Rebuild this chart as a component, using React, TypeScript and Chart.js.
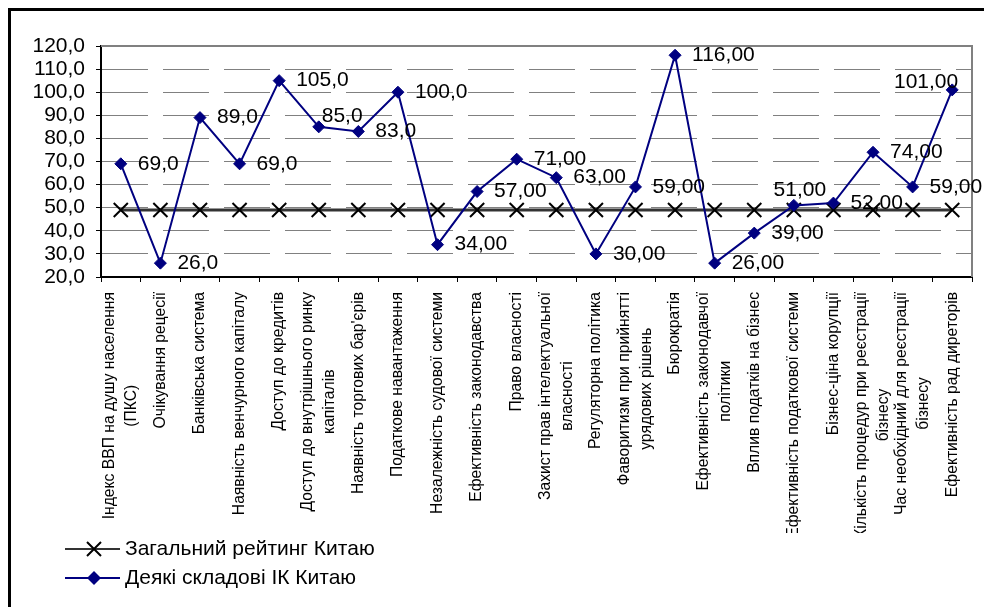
import React, { useEffect, useRef } from 'react';
import { Chart, registerables } from 'chart.js';

Chart.register(...registerables);

const categories: (string | string[])[] = [
  ['Індекс ВВП на душу населення', '(ПКС)'],
  'Очікування рецесії',
  'Банківська система',
  'Наявність венчурного капіталу',
  'Доступ до кредитів',
  ['Доступ до внутрішнього ринку', 'капіталів'],
  "Наявність торгових бар'єрів",
  'Податкове навантаження',
  'Незалежність судової системи',
  'Ефективність законодавства',
  'Право власності',
  ['Захист прав інтелектуальної', 'власності'],
  'Регуляторна політика',
  ['Фаворитизм при прийнятті', 'урядових рішень'],
  'Бюрократія',
  ['Ефективність законодавчої', 'політики'],
  'Вплив податків на бізнес',
  'Ефективність податкової системи',
  'Бізнес-ціна корупції',
  ['Кількість процедур при реєстрації', 'бізнесу'],
  ['Час необхідний для реєстрації', 'бізнесу'],
  'Ефективність рад диреторів',
];

const overallRating = [49, 49, 49, 49, 49, 49, 49, 49, 49, 49, 49, 49, 49, 49, 49, 49, 49, 49, 49, 49, 49, 49];
const componentValues = [69, 26, 89, 69, 105, 85, 83, 100, 34, 57, 71, 63, 30, 59, 116, 26, 39, 51, 52, 74, 59, 101];
const labelDecimals = [1, 1, 1, 1, 1, 1, 1, 1, 2, 2, 2, 2, 2, 2, 2, 2, 2, 2, 2, 2, 2, 2];
const yTickValues = [20, 30, 40, 50, 60, 70, 80, 90, 100, 110, 120];
const seriesNames = ['Загальний рейтинг Китаю', 'Деякі складові ІК Китаю'];

const FONT = '"Liberation Sans", Arial, sans-serif';
const NAVY = '#000080';
const DARK = '#333333';

const fmt = (v: number, d: number) => v.toFixed(d).replace('.', ',');

const plotBorderPlugin = {
  id: 'plotBorder',
  beforeDatasetsDraw(chart: any) {
    const { ctx, chartArea: a } = chart;
    ctx.save();
    ctx.strokeStyle = '#808080';
    ctx.lineWidth = 2;
    ctx.beginPath();
    ctx.moveTo(a.left, a.top);
    ctx.lineTo(a.right, a.top);
    ctx.lineTo(a.right, a.bottom);
    ctx.stroke();
    ctx.restore();
  },
};

const labelPlacement: Record<number, string> = { 5: 'aboveRight', 17: 'above', 21: 'leftAbove' };

const dataLabelPlugin = {
  id: 'dataLabels',
  afterDatasetsDraw(chart: any) {
    const { ctx } = chart;
    const meta = chart.getDatasetMeta(1);
    ctx.save();
    ctx.font = `21px ${FONT}`;
    ctx.fillStyle = '#000';
    ctx.textBaseline = 'middle';
    meta.data.forEach((pt: any, i: number) => {
      const text = fmt(componentValues[i], labelDecimals[i]);
      const p = labelPlacement[i] || 'right';
      if (p === 'right') {
        ctx.textAlign = 'left';
        ctx.fillText(text, pt.x + 17, pt.y);
      } else if (p === 'aboveRight') {
        ctx.textAlign = 'left';
        ctx.fillText(text, pt.x + 3, pt.y - 11);
      } else if (p === 'above') {
        ctx.textAlign = 'center';
        ctx.fillText(text, pt.x + 6, pt.y - 15);
      } else {
        ctx.textAlign = 'right';
        ctx.fillText(text, pt.x + 6, pt.y - 8);
      }
    });
    ctx.restore();
  },
};

const xLabelPlugin = {
  id: 'xLabels',
  afterDraw(chart: any) {
    const { ctx, chartArea: a } = chart;
    const xs = chart.scales.x;
    ctx.save();
    ctx.beginPath();
    ctx.rect(0, a.bottom, chart.width, 522 - a.bottom);
    ctx.clip();
    ctx.font = `15.7px ${FONT}`;
    ctx.fillStyle = '#000';
    ctx.textBaseline = 'middle';
    const top = a.bottom + 15;
    const lh = 22;
    categories.forEach((cat, i) => {
      const lines = Array.isArray(cat) ? cat : [cat];
      const x = xs.getPixelForValue(i);
      const blockW = Math.max(...lines.map((l) => ctx.measureText(l).width));
      ctx.save();
      ctx.translate(x, top);
      ctx.rotate(-Math.PI / 2);
      ctx.textAlign = 'center';
      lines.forEach((l, k) => {
        ctx.fillText(l, -blockW / 2, (k - (lines.length - 1) / 2) * lh);
      });
      ctx.restore();
    });
    ctx.restore();
  },
};

const legendPlugin = {
  id: 'customLegend',
  afterDraw(chart: any) {
    const { ctx } = chart;
    const rows = [538, 567];
    const x0 = 54;
    const x1 = 109;
    const mx = 83;
    ctx.save();
    chart.data.datasets.forEach((ds: any, i: number) => {
      const y = rows[i];
      ctx.strokeStyle = ds.borderColor;
      ctx.lineWidth = 2;
      ctx.beginPath();
      ctx.moveTo(x0, y);
      ctx.lineTo(x1, y);
      ctx.stroke();
      if (i === 0) {
        const o = 7;
        ctx.strokeStyle = '#000';
        ctx.lineWidth = 2;
        ctx.beginPath();
        ctx.moveTo(mx - o, y - o);
        ctx.lineTo(mx + o, y + o);
        ctx.moveTo(mx - o, y + o);
        ctx.lineTo(mx + o, y - o);
        ctx.stroke();
      } else {
        const r = 7;
        ctx.fillStyle = NAVY;
        ctx.beginPath();
        ctx.moveTo(mx, y - r);
        ctx.lineTo(mx + r, y);
        ctx.lineTo(mx, y + r);
        ctx.lineTo(mx - r, y);
        ctx.closePath();
        ctx.fill();
      }
      ctx.fillStyle = '#000';
      ctx.font = `21px ${FONT}`;
      ctx.textAlign = 'left';
      ctx.textBaseline = 'middle';
      ctx.fillText(ds.label, 114, y);
    });
    ctx.restore();
  },
};

export default function App() {
  const ref = useRef<HTMLCanvasElement | null>(null);

  useEffect(() => {
    if (!ref.current) return;
    const chart = new Chart(ref.current, {
      type: 'line',
      data: {
        labels: categories.map((c) => (Array.isArray(c) ? c.join(' ') : c)),
        datasets: [
          {
            label: seriesNames[0],
            data: overallRating,
            borderColor: DARK,
            borderWidth: 3,
            pointStyle: 'crossRot',
            pointRadius: 10,
            pointBorderColor: '#000',
            pointBackgroundColor: '#000',
            pointBorderWidth: 2,
            tension: 0,
            order: 2,
          },
          {
            label: seriesNames[1],
            data: componentValues,
            borderColor: NAVY,
            borderWidth: 2,
            pointStyle: 'rectRot',
            pointRadius: 6,
            pointBackgroundColor: NAVY,
            pointBorderColor: NAVY,
            pointBorderWidth: 1,
            tension: 0,
            order: 1,
          },
        ],
      },
      options: {
        responsive: false,
        animation: false,
        devicePixelRatio: 1,
        layout: { padding: { top: 35, right: 7, bottom: 0, left: 0 } },
        plugins: {
          legend: { display: false },
          tooltip: { enabled: false },
        },
        scales: {
          x: {
            type: 'category',
            offset: true,
            grid: {
              offset: true,
              drawOnChartArea: false,
              drawTicks: true,
              tickLength: 5,
              tickColor: '#000',
              tickWidth: 1,
            },
            border: { display: true, color: '#000', width: 2 },
            ticks: { display: false, autoSkip: false },
            afterFit: (s: any) => {
              s.height = 330;
            },
          },
          y: {
            min: 20,
            max: 120,
            afterBuildTicks: (s: any) => {
              s.ticks = yTickValues.map((v) => ({ value: v }));
            },
            grid: {
              color: '#808080',
              lineWidth: 1,
              drawTicks: true,
              tickLength: 5,
              tickColor: '#000',
              tickWidth: 1,
              tickBorderDash: [],
            },
            border: { display: true, color: '#000', width: 2, dash: [46, 15] },
            ticks: {
              autoSkip: false,
              padding: 11,
              color: '#000',
              font: { family: FONT, size: 21 },
              callback: (v: any) => fmt(Number(v), 1),
            },
            afterFit: (s: any) => {
              s.width = 90;
            },
          },
        },
      } as any,
      plugins: [plotBorderPlugin, dataLabelPlugin, xLabelPlugin, legendPlugin],
    });
    return () => chart.destroy();
  }, []);

  return (
    <div
      style={{
        position: 'fixed',
        left: 8,
        top: 8,
        width: 976,
        height: 599,
        borderTop: '3px solid #000',
        borderLeft: '3px solid #000',
        boxSizing: 'border-box',
        overflow: 'hidden',
        background: '#fff',
      }}
    >
      <canvas ref={ref} width={973} height={596} style={{ display: 'block' }} />
    </div>
  );
}
